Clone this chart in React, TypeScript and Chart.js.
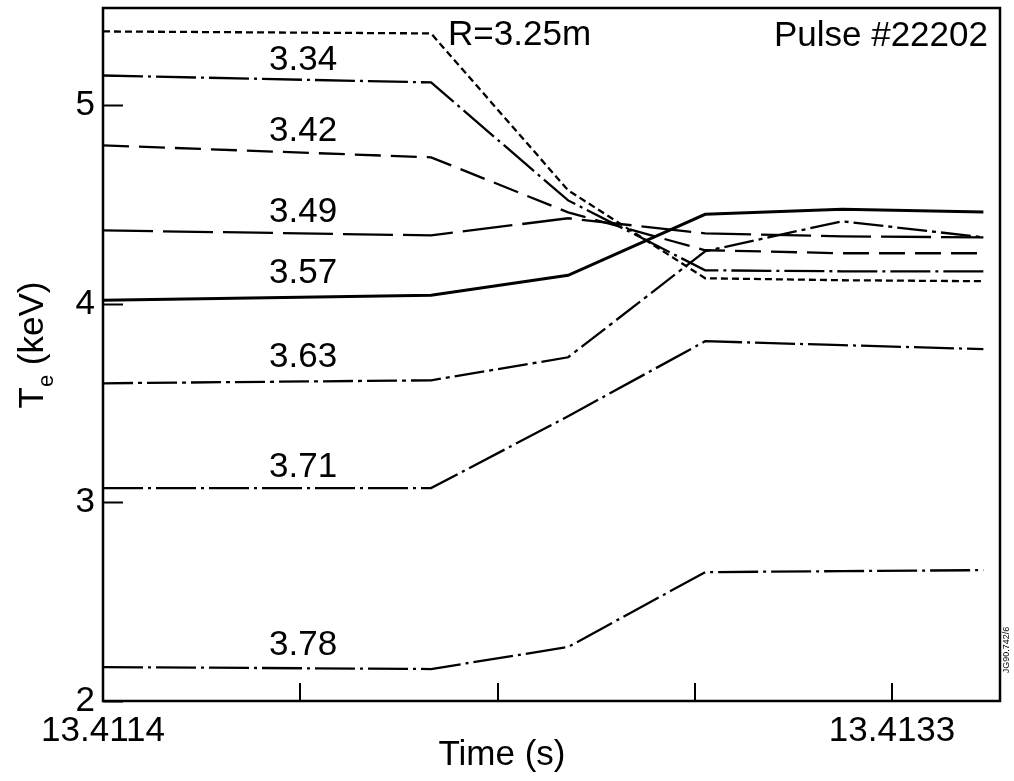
import React, { useEffect, useRef } from "react";
import { Chart, registerables } from "chart.js";

Chart.register(...registerables);

// ---- data ----
const times = [13.4114, 13.41219, 13.41252, 13.41285, 13.41318, 13.41352];
const r325 = [5.372, 5.362, 4.572, 4.129, 4.119, 4.114];
const r334 = [5.15, 5.115, 4.521, 4.169, 4.164, 4.164];
const r342 = [4.798, 4.738, 4.461, 4.27, 4.255, 4.255];
const r349 = [4.37, 4.345, 4.431, 4.355, 4.34, 4.335];
const r357 = [4.018, 4.043, 4.144, 4.451, 4.476, 4.463];
const r363 = [3.6, 3.615, 3.731, 4.265, 4.416, 4.335];
const r371 = [3.072, 3.072, 3.434, 3.812, 3.792, 3.772];
const r378 = [2.171, 2.161, 2.272, 2.649, 2.654, 2.659];

const seriesNames = ["R=3.25m", "3.34", "3.42", "3.49", "3.57", "3.63", "3.71", "3.78"];
const seriesValues = [r325, r334, r342, r349, r357, r363, r371, r378];
const seriesDash = [
  [7, 4],
  [40, 5, 3, 5],
  [26, 10],
  [50, 10],
  [],
  [30, 5, 4, 5],
  [40, 5, 3, 5],
  [40, 5, 3, 5],
];
const seriesWidth = [2.3, 2.3, 2.3, 2.3, 3, 2.3, 2.3, 2.3];

const xTicks = [13.4114, 13.411875, 13.41235, 13.412825, 13.4133];
const xTickLabels = ["13.4114", "", "", "", "13.4133"];
const yTicks = [2, 3, 4, 5];
const xMin = 13.4114;
const xMax = 13.41356;
const yMin = 2;
const yMax = 5.49;

// inline labels (data coordinates)
const labelTime = 13.4118;
const inlineLabels = ["3.34", "3.42", "3.49", "3.57", "3.63", "3.71", "3.78"];
const inlineLabelValues = [5.226, 4.869, 4.461, 4.154, 3.731, 3.178, 2.282];
const radiusLabel = "R=3.25m";
const radiusLabelPos = [13.412231, 5.352];
const pulseLabel = "Pulse #22202";
const pulseLabelPos = [13.413531, 5.347];

const FONT = "'Liberation Sans', Arial, Helvetica, sans-serif";
const FS = 35;

const decorPlugin = {
  id: "decor",
  afterDraw(chart: any) {
    const { ctx, chartArea } = chart;
    const xs = chart.scales.x;
    const ys = chart.scales.y;
    ctx.save();
    ctx.strokeStyle = "#000";
    ctx.fillStyle = "#000";
    // frame
    ctx.lineWidth = 2.5;
    ctx.strokeRect(chartArea.left, chartArea.top, chartArea.right - chartArea.left, chartArea.bottom - chartArea.top);
    // inward ticks
    ctx.lineWidth = 2;
    yTicks.forEach((v) => {
      const py = Math.round(ys.getPixelForValue(v)) + 0.5;
      ctx.beginPath();
      ctx.moveTo(chartArea.left, py);
      ctx.lineTo(chartArea.left + 20, py);
      ctx.stroke();
    });
    xTicks.slice(1).forEach((v) => {
      const px = Math.round(xs.getPixelForValue(v));
      ctx.beginPath();
      ctx.moveTo(px, chartArea.bottom);
      ctx.lineTo(px, chartArea.bottom - 18);
      ctx.stroke();
    });
    // inline labels
    ctx.font = `${FS}px ${FONT}`;
    ctx.textBaseline = "middle";
    ctx.textAlign = "left";
    inlineLabels.forEach((t, i) => {
      ctx.fillText(t, xs.getPixelForValue(labelTime), ys.getPixelForValue(inlineLabelValues[i]));
    });
    ctx.fillText(radiusLabel, xs.getPixelForValue(radiusLabelPos[0]), ys.getPixelForValue(radiusLabelPos[1]));
    ctx.textAlign = "right";
    ctx.fillText(pulseLabel, xs.getPixelForValue(pulseLabelPos[0]), ys.getPixelForValue(pulseLabelPos[1]));
    // x title
    ctx.textAlign = "center";
    ctx.textBaseline = "alphabetic";
    ctx.fillText("Time (s)", 502, 765);
    // y title with subscript
    ctx.save();
    ctx.translate(43, 345);
    ctx.rotate(-Math.PI / 2);
    ctx.textAlign = "left";
    ctx.font = `${FS}px ${FONT}`;
    const wT = ctx.measureText("T").width;
    const wRest = ctx.measureText(" (keV)").width;
    ctx.font = `22px ${FONT}`;
    const wE = ctx.measureText("e").width;
    const total = wT + wE + wRest;
    let x0 = -total / 2;
    ctx.font = `${FS}px ${FONT}`;
    ctx.fillText("T", x0, 0);
    x0 += wT;
    ctx.font = `22px ${FONT}`;
    ctx.fillText("e", x0, 10);
    x0 += wE;
    ctx.font = `${FS}px ${FONT}`;
    ctx.fillText(" (keV)", x0, 0);
    ctx.restore();
    // figure id
    ctx.save();
    ctx.translate(1007, 650);
    ctx.rotate(-Math.PI / 2);
    ctx.font = `9px ${FONT}`;
    ctx.textAlign = "center";
    ctx.textBaseline = "middle";
    ctx.fillText("JG90.742/6", 0, 0);
    ctx.restore();
    ctx.restore();
  },
};

export default function App() {
  const ref = useRef<HTMLCanvasElement | null>(null);
  useEffect(() => {
    if (!ref.current) return;
    const datasets = seriesNames.map((name, i) => ({
      label: name,
      data: times.map((t, j) => ({ x: t, y: seriesValues[i][j] })),
      borderColor: "#000",
      backgroundColor: "#000",
      borderWidth: seriesWidth[i],
      borderDash: seriesDash[i],
      pointRadius: 0,
      tension: 0,
      fill: false,
    }));
    const chart = new Chart(ref.current, {
      type: "line",
      data: { datasets },
      plugins: [decorPlugin],
      options: {
        responsive: false,
        animation: false,
        devicePixelRatio: 1,
        layout: { padding: { top: 8, right: 14, left: 0, bottom: 0 } },
        plugins: { legend: { display: false }, tooltip: { enabled: false } },
        scales: {
          x: {
            type: "linear",
            min: xMin,
            max: xMax,
            afterBuildTicks: (scale: any) => {
              scale.ticks = xTicks.map((v) => ({ value: v }));
            },
            afterFit: (scale: any) => {
              scale.height = 80;
              scale.paddingLeft = 0;
              scale.paddingRight = 0;
            },
            grid: { display: false, drawTicks: false },
            border: { display: false },
            ticks: {
              autoSkip: false,
              maxRotation: 0,
              padding: 9,
              color: "#000",
              font: { family: FONT, size: FS },
              callback: (value: any, index: number) => xTickLabels[index] ?? "",
            },
          },
          y: {
            type: "linear",
            min: yMin,
            max: yMax,
            afterBuildTicks: (scale: any) => {
              scale.ticks = yTicks.map((v) => ({ value: v }));
            },
            afterFit: (scale: any) => {
              scale.width = 103;
              scale.paddingTop = 0;
              scale.paddingBottom = 0;
            },
            grid: { display: false, drawTicks: false },
            border: { display: false },
            ticks: {
              padding: 8,
              color: "#000",
              font: { family: FONT, size: FS },
              callback: (value: any) => String(value),
            },
          },
        },
      },
    });
    return () => chart.destroy();
  }, []);
  return (
    <div style={{ position: "absolute", left: 0, top: 0, width: 1014, height: 781, background: "#fff" }}>
      <canvas ref={ref} width={1014} height={781} />
    </div>
  );
}
